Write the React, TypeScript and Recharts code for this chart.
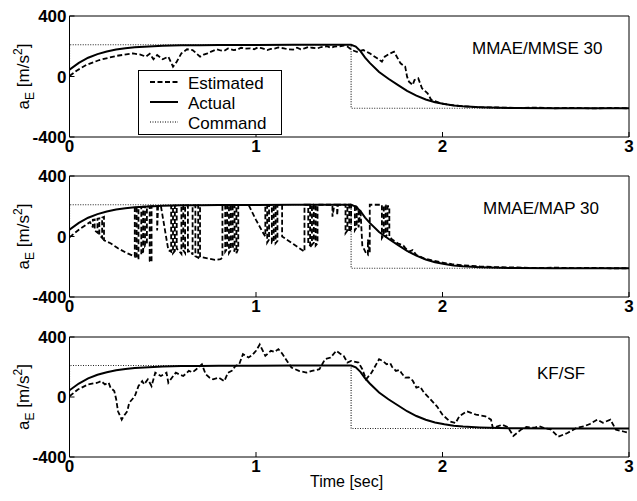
import React from 'react';
import { LineChart, Line, XAxis, YAxis } from 'recharts';

type Pt = [number, number];

const xTicks = [0, 1, 2, 3];
const yTicks = [-400, 0, 400];
const seriesNames = ['Estimated', 'Actual', 'Command'];
const panelTitles = ['MMAE/MMSE 30', 'MMAE/MAP 30', 'KF/SF'];

const command: Pt[] = [[0, 0], [0, 210], [1.51, 210], [1.51, -210], [3, -210]];

const actualResponse: Pt[] = [
  [0, 45], [0.05, 90], [0.1, 124], [0.15, 148], [0.2, 165], [0.25, 178], [0.3, 187], [0.35, 193],
  [0.4, 197], [0.45, 200], [0.5, 203], [0.6, 206], [0.7, 207], [0.8, 208], [0.9, 209], [1.0, 209],
  [1.2, 210], [1.51, 210], [1.535, 198], [1.56, 168], [1.585, 125], [1.61, 90], [1.66, 30],
  [1.71, -15], [1.76, -55], [1.81, -95], [1.86, -127], [1.91, -152], [1.96, -170], [2.01, -182],
  [2.06, -191], [2.11, -197], [2.2, -203], [2.3, -207], [2.4, -209], [2.6, -210], [3.0, -210],
];

const mmseEstimate: Pt[] = [
  [0, 3], [0.04, 40], [0.09, 76], [0.16, 109], [0.25, 136], [0.34, 153], [0.38, 145], [0.41, 131],
  [0.43, 150], [0.45, 114], [0.47, 142], [0.5, 114], [0.53, 131], [0.555, 65], [0.575, 98],
  [0.6, 153], [0.63, 180], [0.66, 175], [0.7, 131], [0.72, 145], [0.74, 153], [0.76, 165],
  [0.79, 180], [0.81, 172], [0.83, 170], [0.85, 185], [0.88, 175], [0.9, 178], [0.92, 190],
  [0.94, 184], [0.97, 186], [0.99, 180], [1.01, 192], [1.03, 188], [1.06, 175], [1.08, 182],
  [1.1, 185], [1.12, 192], [1.15, 186], [1.17, 180], [1.2, 178], [1.22, 190], [1.24, 180],
  [1.26, 186], [1.28, 195], [1.3, 190], [1.33, 186], [1.35, 195], [1.38, 200], [1.4, 190],
  [1.42, 197], [1.45, 200], [1.47, 205], [1.49, 198],
  [1.514, 175], [1.54, 163], [1.575, 175], [1.61, 153], [1.65, 120], [1.675, 98], [1.69, 131],
  [1.72, 153], [1.74, 164], [1.755, 131], [1.775, 87], [1.8, 65], [1.81, -1], [1.82, -34],
  [1.84, -56], [1.85, -23], [1.87, -12], [1.89, -78], [1.92, -111], [1.94, -155], [1.99, -177],
  [2.04, -188], [2.09, -195], [2.15, -200], [2.2, -203], [2.3, -205], [2.4, -208], [2.5, -206],
  [2.6, -210], [2.7, -207], [2.8, -211], [2.9, -208], [3.0, -210],
];

const mapEstimate: Pt[] = [
  [0, -5], [0.05, 45], [0.11, 95], [0.125, 60], [0.125, 110], [0.135, 112], [0.135, 40], [0.15, 25],
  [0.15, 118], [0.16, 120], [0.16, 10], [0.175, -10], [0.175, 125], [0.185, 130], [0.185, -25],
  [0.22, -45], [0.26, -78], [0.3, -105], [0.35, -133], [0.35, 195], [0.36, 195], [0.36, -140],
  [0.37, -150], [0.37, 196], [0.385, 196], [0.385, -120], [0.395, -100], [0.395, 198], [0.405, 198],
  [0.405, -60], [0.415, -40], [0.415, 199], [0.43, 199], [0.43, -160], [0.44, -170], [0.44, 200],
  [0.47, 201], [0.47, 40], [0.475, 201], [0.49, 202], [0.53, -90], [0.545, -100], [0.545, 203],
  [0.555, 203], [0.555, -110], [0.565, -95], [0.565, 204], [0.575, 204], [0.575, -80], [0.59, -100],
  [0.6, -115], [0.6, 205], [0.61, 205], [0.61, -90], [0.62, -110], [0.62, 205], [0.635, 206],
  [0.635, -100], [0.65, -95], [0.66, -120], [0.66, 206], [0.675, 206], [0.675, -130], [0.69, -140],
  [0.69, 207], [0.7, 207], [0.7, -135], [0.74, -145], [0.78, -155], [0.81, -150], [0.82, -140],
  [0.82, 207], [0.835, 207], [0.835, -100], [0.845, -80], [0.845, 208], [0.855, 208], [0.855, -110],
  [0.865, -90], [0.865, 208], [0.875, 208], [0.875, -60], [0.885, -100], [0.885, 208], [0.895, 208],
  [0.895, -110], [0.905, -80], [0.905, 208], [0.96, 209], [1.0, 110], [1.04, 20], [1.05, 0],
  [1.05, 209], [1.06, 209], [1.06, -40], [1.07, -20], [1.07, 209], [1.085, 209], [1.085, -40],
  [1.095, -30], [1.095, 209], [1.105, 209], [1.105, -45], [1.115, -30], [1.115, 209], [1.14, 209],
  [1.14, 0], [1.2, -50], [1.26, -100], [1.26, 210], [1.28, 210], [1.28, -50], [1.29, -60],
  [1.29, 210], [1.3, 210], [1.3, -56], [1.31, -40], [1.31, 210], [1.32, 210], [1.32, -60],
  [1.33, -45], [1.33, 210], [1.41, 210], [1.41, 131], [1.42, 210], [1.435, 210], [1.435, 140],
  [1.44, 210], [1.48, 210], [1.48, 22], [1.49, 40], [1.49, 210], [1.5, 210], [1.5, 30], [1.51, 50],
  [1.51, 210], [1.53, 200], [1.53, 40], [1.54, 60], [1.54, 195], [1.55, 185], [1.55, 60],
  [1.56, 180], [1.57, -60], [1.59, -110], [1.6, -120], [1.6, -20], [1.61, -110], [1.61, 210],
  [1.675, 210], [1.675, -10], [1.685, 10], [1.685, 205], [1.695, 205], [1.695, -5], [1.705, 20],
  [1.705, 200], [1.715, 200], [1.715, 0], [1.73, -20], [1.76, -45], [1.79, -60], [1.8, -75],
  [1.82, -100], [1.84, -90], [1.86, -122], [1.9, -145], [1.95, -160], [2.0, -172], [2.05, -183],
  [2.1, -190], [2.2, -198], [2.3, -203], [2.4, -205], [2.5, -208], [2.6, -206], [2.7, -209],
  [2.8, -207], [2.9, -210], [3.0, -210],
];

const kfEstimate: Pt[] = [
  [0, 5], [0.045, 50], [0.1, 84], [0.15, 95], [0.17, 106], [0.19, 84], [0.21, 95], [0.22, 62],
  [0.24, 40], [0.25, -13], [0.26, -95], [0.28, -151], [0.29, -129], [0.31, -95], [0.32, -39],
  [0.35, 5], [0.37, 73], [0.39, 106], [0.4, 84], [0.42, 118], [0.44, 73], [0.46, 162], [0.49, 140],
  [0.52, 162], [0.53, 95], [0.55, 130], [0.57, 162], [0.59, 150], [0.61, 140], [0.64, 174],
  [0.66, 165], [0.68, 185], [0.71, 218], [0.73, 152], [0.75, 130], [0.77, 118], [0.8, 129],
  [0.83, 106], [0.85, 162], [0.87, 174], [0.89, 207], [0.91, 218], [0.93, 286], [0.96, 263],
  [0.98, 280], [1.0, 308], [1.02, 350], [1.05, 274], [1.08, 308], [1.1, 300], [1.12, 319],
  [1.14, 290], [1.16, 252], [1.19, 196], [1.21, 185], [1.23, 174], [1.27, 163], [1.3, 174],
  [1.34, 185], [1.37, 252], [1.4, 263], [1.43, 308], [1.45, 290], [1.47, 274], [1.49, 230],
  [1.51, 241], [1.55, 230], [1.57, 185], [1.59, 118], [1.62, 163], [1.66, 252], [1.68, 240],
  [1.7, 219], [1.72, 225], [1.73, 200], [1.75, 174], [1.77, 180], [1.78, 160], [1.8, 129],
  [1.82, 130], [1.84, 110], [1.86, 62], [1.88, 70], [1.9, 30], [1.92, 5], [1.97, -62], [2.0, -118],
  [2.04, -163], [2.07, -174], [2.09, -129], [2.13, -95], [2.18, -118], [2.23, -129], [2.26, -151],
  [2.27, -207], [2.32, -185], [2.35, -200], [2.38, -260], [2.42, -218], [2.45, -200], [2.49, -205],
  [2.52, -195], [2.55, -210], [2.58, -215], [2.62, -265], [2.67, -240], [2.72, -205], [2.76, -195],
  [2.79, -180], [2.83, -151], [2.86, -172], [2.9, -151], [2.93, -218], [2.97, -230], [3.0, -240],
];

const FONT = '"Liberation Sans", Arial, Helvetica, sans-serif';
const toRows = (pts: Pt[]) => pts.map(([t, v]) => ({ t, v }));

const panels = [
  { plotTop: 16, plotH: 121, estimate: mmseEstimate },
  { plotTop: 176, plotH: 121, estimate: mapEstimate },
  { plotTop: 337, plotH: 120, estimate: kfEstimate },
];

const tickStyle = { fontSize: 17, fontWeight: 700, fill: '#000', fontFamily: FONT };

function Panel({ plotTop, plotH, estimate }: { plotTop: number; plotH: number; estimate: Pt[] }) {
  const chartH = 16 + plotH + 30;
  const cy = 16 + plotH / 2;
  return (
    <div style={{ position: 'absolute', left: 0, top: plotTop - 16 }}>
      <LineChart width={637} height={chartH} margin={{ top: 15, right: 7, bottom: 10, left: 19.5 }}>
        <XAxis
          dataKey="t" type="number" domain={[0, 3]} ticks={xTicks} allowDataOverflow
          height={20} tickSize={-5} tickMargin={8} stroke="#000" tick={tickStyle}
        />
        <XAxis
          xAxisId="top" orientation="top" dataKey="t" type="number" domain={[0, 3]} ticks={xTicks}
          height={1} tickSize={-5} stroke="#000" tick={false}
        />
        <YAxis
          type="number" domain={[-400, 400]} ticks={yTicks} allowDataOverflow width={50}
          tickSize={-5} tickMargin={8} stroke="#000" tick={tickStyle}
          label={{
            content: () => (
              <text
                x={29} y={cy} transform={`rotate(-90, 29, ${cy})`} textAnchor="middle"
                fontSize={17} fontFamily={FONT} fill="#000"
              >
                a<tspan fontSize={12} dy={5}>E</tspan>
                <tspan dy={-5}> [m/s</tspan>
                <tspan fontSize={12} dy={-7}>2</tspan>
                <tspan dy={7}>]</tspan>
              </text>
            ),
          }}
        />
        <YAxis
          yAxisId="right" orientation="right" type="number" domain={[-400, 400]} ticks={yTicks}
          width={1} tickSize={-5} stroke="#000" tick={false}
        />
        <Line
          data={toRows(command)} dataKey="v" type="linear" dot={false} stroke="#222"
          strokeWidth={1.2} strokeDasharray="1 1.5" isAnimationActive={false}
        />
        <Line
          data={toRows(actualResponse)} dataKey="v" type="linear" dot={false} stroke="#000"
          strokeWidth={2} isAnimationActive={false}
        />
        <Line
          data={toRows(estimate)} dataKey="v" type="linear" dot={false} stroke="#000"
          strokeWidth={1.8} strokeDasharray="5 2.5" isAnimationActive={false}
        />
      </LineChart>
    </div>
  );
}

export default function App() {
  const titlePos = [
    { x: 472, y: 54 },
    { x: 483, y: 214 },
    { x: 537, y: 379 },
  ];
  return (
    <div style={{ position: 'absolute', left: 0, top: 0, width: 637, height: 501, background: '#fff' }}>
      {panels.map((p, i) => (
        <Panel key={i} {...p} />
      ))}
      <svg width={637} height={501} style={{ position: 'absolute', left: 0, top: 0, pointerEvents: 'none' }}>
        {panelTitles.map((t, i) => (
          <text key={t} x={titlePos[i].x} y={titlePos[i].y} fontSize={17} fontFamily={FONT} fill="#000">
            {t}
          </text>
        ))}
        <rect x={138.5} y={70.5} width={143} height={64} fill="#fff" stroke="#000" strokeWidth={1} />
        {seriesNames.map((name, i) => {
          const y = 82 + i * 20;
          const dash = i === 0 ? '5 2.5' : i === 2 ? '1 1.5' : undefined;
          return (
            <g key={name}>
              <line
                x1={150} x2={178} y1={y} y2={y} stroke="#000"
                strokeWidth={i === 2 ? 1.2 : i === 1 ? 2 : 1.8} strokeDasharray={dash}
              />
              <text x={188} y={y + 6.5} fontSize={17} fontFamily={FONT} fill="#000">
                {name}
              </text>
            </g>
          );
        })}
        <text x={310} y={487} fontSize={16} fontFamily={FONT} fill="#000">
          Time [sec]
        </text>
      </svg>
    </div>
  );
}
